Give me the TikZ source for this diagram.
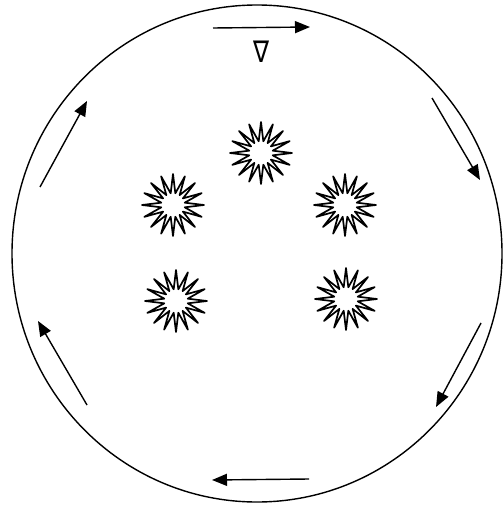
\documentclass[tikz,border=0pt]{standalone}
\usepackage{fontspec}
\newfontfamily\symfont{DejaVu Sans}
\usetikzlibrary{arrows.meta,shapes.geometric}
\begin{document}
\begin{tikzpicture}[x=1bp,y=-1bp,
  flow/.style={line width=1.4bp,-{Triangle[length=15bp,width=12bp]}},
  sun/.style={star,star points=16,star point ratio=2.6,minimum size=62bp,inner sep=0pt,draw,line width=1.7bp,line join=round}]
\useasboundingbox (0,0) rectangle (503,507);
\draw[line width=1.4bp] (257,253.5) ellipse [x radius=245, y radius=248.5];
\node[sun] (s1) at (261,153) {};
\node[sun] (s2) at (173,205) {};
\node[sun] (s3) at (345,205) {};
\node[sun] (s4) at (176,301) {};
\node[sun] (s5) at (346,299) {};
\node[font=\symfont\fontsize{30}{30}\selectfont,inner sep=0pt,xscale=0.8] (nab) at (261,52) {∇};
\coordinate (t1) at (213,28);  \coordinate (h1) at (310,27);
\coordinate (t2) at (432,98);  \coordinate (h2) at (480,180);
\coordinate (t3) at (481,323); \coordinate (h3) at (436,407);
\coordinate (t4) at (309,479); \coordinate (h4) at (212,480);
\coordinate (t5) at (87,405);  \coordinate (h5) at (38,321);
\coordinate (t6) at (40,187);  \coordinate (h6) at (87,101);
\draw[flow] (t1) -- (h1);
\draw[flow] (t2) -- (h2);
\draw[flow] (t3) -- (h3);
\draw[flow] (t4) -- (h4);
\draw[flow] (t5) -- (h5);
\draw[flow] (t6) -- (h6);
\end{tikzpicture}
\end{document}
